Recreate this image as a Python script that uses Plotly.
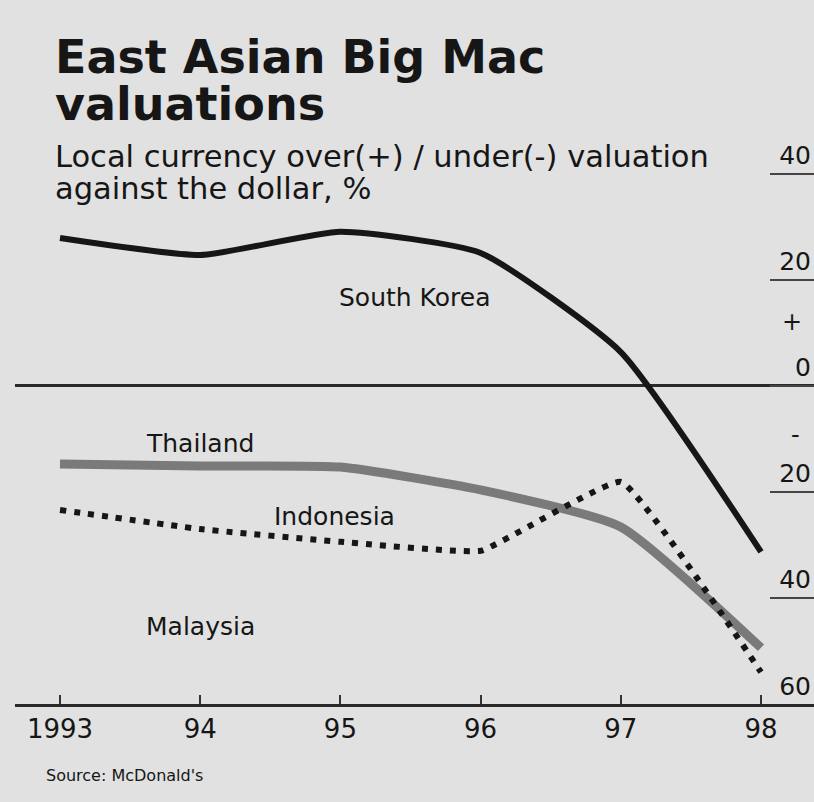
import plotly.graph_objects as go

# ---- data ----
years = [1993, 1994, 1995, 1996, 1997, 1998]
year_labels = ["1993", "94", "95", "96", "97", "98"]

south_korea = [27.9, 24.7, 29.1, 25.1, 6.4, -31.3]
thailand = [-14.7, -15.1, -15.3, -19.6, -26.6, -49.4]
indonesia = [-23.4, -27.0, -29.4, -31.1, -18.1, -54.0]

y_tickvals = [40, 20, 0, -20, -40, -60]
y_ticktext = ["40", "20", "0", "20", "40", "60"]

series_labels = ["South Korea", "Thailand", "Indonesia", "Malaysia"]
label_x = [1995.53, 1994.0, 1994.96, 1994.0]
label_y = [16.6, -10.9, -24.7, -45.3]

# ---- styling ----
W, H = 814, 802
PLOT_L, PLOT_R, PLOT_T, PLOT_B = 15, 814, 140, 704
BG = "#e1e1e1"
INK = "#161616"
FONT = "DejaVu Sans"

def px_x(px):
    return (px - PLOT_L) / (PLOT_R - PLOT_L)

def px_y(py):
    return (PLOT_B - py) / (PLOT_B - PLOT_T)

fig = go.Figure()

fig.add_trace(go.Scatter(
    x=years, y=thailand, mode="lines", name="Thailand",
    line=dict(color="#7a7a7a", width=9, shape="spline", smoothing=0.5),
    hoverinfo="skip"))
fig.add_trace(go.Scatter(
    x=years, y=indonesia, mode="lines", name="Indonesia",
    line=dict(color=INK, width=6, dash="6px,8px", shape="spline", smoothing=0.3),
    hoverinfo="skip"))
fig.add_trace(go.Scatter(
    x=years, y=south_korea, mode="lines", name="South Korea",
    line=dict(color=INK, width=6, shape="spline", smoothing=0.5),
    hoverinfo="skip"))

annotations = []
for name, lx, ly in zip(series_labels, label_x, label_y):
    annotations.append(dict(x=lx, y=ly, xref="x", yref="y", text=name,
                            showarrow=False, xanchor="center", yanchor="middle",
                            font=dict(family=FONT, size=25, color=INK)))

# plus / minus signs on the value scale
annotations.append(dict(x=1, xref="paper", y=12.1, yref="y", text="+",
                        showarrow=False, xanchor="right", xshift=-10, yanchor="middle",
                        font=dict(family=FONT, size=24, color=INK)))
annotations.append(dict(x=1, xref="paper", y=-9.2, yref="y", text="-",
                        showarrow=False, xanchor="right", xshift=-12, yanchor="middle",
                        font=dict(family=FONT, size=24, color=INK)))

# title / subtitle / source
annotations += [
    dict(x=px_x(53), y=px_y(57), xref="paper", yref="paper", text="<b>East Asian Big Mac</b>",
         showarrow=False, xanchor="left", yanchor="middle",
         font=dict(family=FONT, size=46, color=INK)),
    dict(x=px_x(53), y=px_y(104), xref="paper", yref="paper", text="<b>valuations</b>",
         showarrow=False, xanchor="left", yanchor="middle",
         font=dict(family=FONT, size=46, color=INK)),
    dict(x=px_x(53), y=px_y(156), xref="paper", yref="paper",
         text="Local currency over(+) / under(-) valuation",
         showarrow=False, xanchor="left", yanchor="middle",
         font=dict(family=FONT, size=30.5, color=INK)),
    dict(x=px_x(53), y=px_y(188), xref="paper", yref="paper",
         text="against the dollar, %",
         showarrow=False, xanchor="left", yanchor="middle",
         font=dict(family=FONT, size=30.5, color=INK)),
    dict(x=px_x(44), y=px_y(775), xref="paper", yref="paper",
         text="Source: McDonald's",
         showarrow=False, xanchor="left", yanchor="middle",
         font=dict(family=FONT, size=16, color=INK)),
]

fig.update_layout(
    width=W, height=H,
    margin=dict(l=PLOT_L, r=W - PLOT_R, t=PLOT_T, b=H - PLOT_B, pad=0),
    paper_bgcolor=BG, plot_bgcolor=BG,
    showlegend=False,
    annotations=annotations,
    xaxis=dict(
        range=[1992.679, 1998.378],
        tickvals=years, ticktext=year_labels,
        ticks="inside", ticklen=9, tickwidth=1.5, tickcolor="#333",
        showgrid=False, zeroline=False,
        showline=True, linecolor="#2a2a2a", linewidth=2.5,
        tickfont=dict(family=FONT, size=26, color=INK),
        fixedrange=True,
    ),
    yaxis=dict(
        range=[-60, 46.4],
        side="right",
        tickvals=y_tickvals, ticktext=y_ticktext,
        ticks="inside", ticklen=44, tickwidth=1.5, tickcolor="#444",
        ticklabelposition="inside top",
        tickfont=dict(family=FONT, size=25, color=INK),
        showgrid=False, showline=False,
        zeroline=True, zerolinecolor="#2a2a2a", zerolinewidth=2.5,
        fixedrange=True,
    ),
)

fig.write_html(
    "out.html",
    config={"displayModeBar": False},
    post_script="document.body.style.margin='0';document.body.style.overflow='hidden';",
)
